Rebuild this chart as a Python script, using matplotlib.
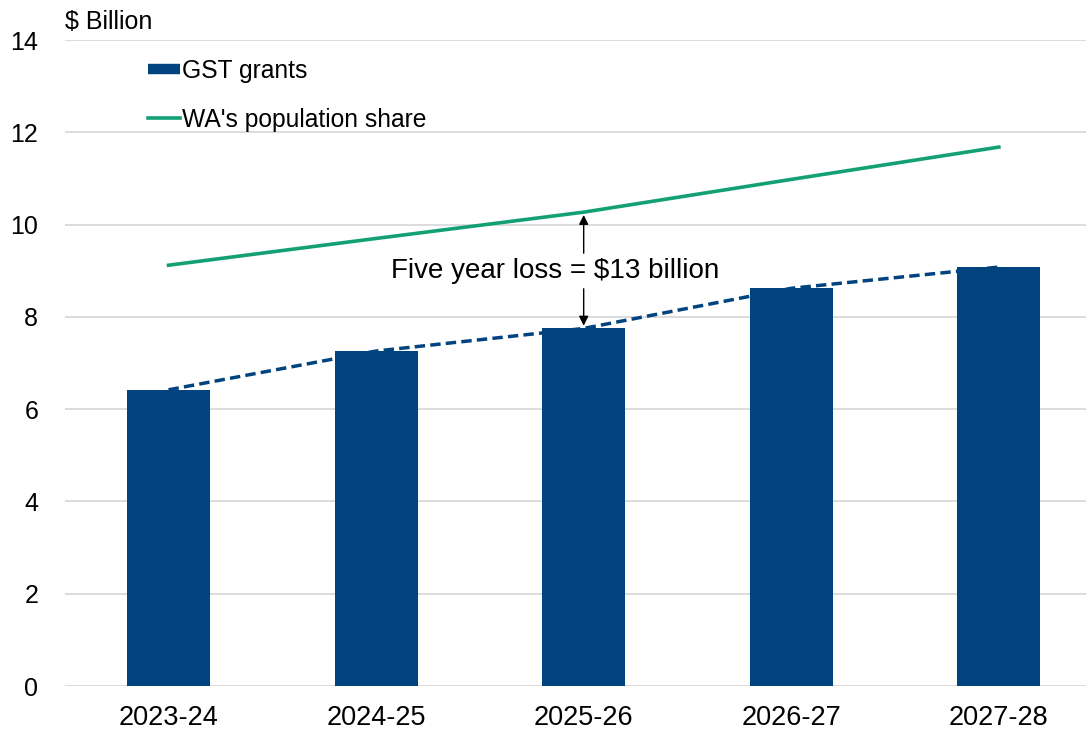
import numpy as np
import matplotlib
matplotlib.use("Agg")
import matplotlib.pyplot as plt
from matplotlib.lines import Line2D

plt.rcParams['font.family'] = ['Liberation Sans', 'DejaVu Sans']

# WA GST grants vs population share, $ billion
years = ['2023-24', '2024-25', '2025-26', '2026-27', '2027-28']
gst_grants = [6.42, 7.26, 7.75, 8.62, 9.08]
pop_share = [9.12, 9.70, 10.27, 10.98, 11.68]
y_ticks = [0, 2, 4, 6, 8, 10, 12, 14]
loss_label = 'Five year loss = $13 billion'

navy = '#00437f'
green = '#14a075'

fig = plt.figure(figsize=(10.88, 7.32), dpi=100)
ax = fig.add_axes([0.0595, 0.0628, 0.9387, 0.8825])

x = np.arange(len(years))
ax.bar(x, gst_grants, width=0.4, color=navy, zorder=2)
ax.plot(x, gst_grants, color=navy, lw=2.5, dashes=(3.0, 1.5), zorder=3)
ax.plot(x, pop_share, color=green, lw=2.6, zorder=3)

ax.set_xlim(-0.5, 4.42)
ax.set_ylim(0, 14)
ax.set_yticks(y_ticks)
ax.set_xticks(x)
ax.set_xticklabels(years)
ax.tick_params(axis='y', length=0, pad=19, labelsize=18)
ax.tick_params(axis='x', length=0, pad=14, labelsize=19.5)
ax.grid(axis='y', color='#d9d9d9', lw=1.3, zorder=0)
ax.set_axisbelow(True)
for s in ax.spines.values():
    s.set_visible(False)

# gap annotation in 2025-26
ax.text(1.86, 9.0, loss_label, ha='center', va='center', fontsize=20)
ax.annotate('', xy=(2, pop_share[2]), xytext=(2, 9.32),
            arrowprops=dict(arrowstyle='-|>', color='black', lw=1, mutation_scale=14))
ax.annotate('', xy=(2, gst_grants[2]), xytext=(2, 8.67),
            arrowprops=dict(arrowstyle='-|>', color='black', lw=1, mutation_scale=14))

fig.text(65 / 1088, 1 - 22 / 732, '$ Billion', fontsize=18, va='center', ha='left')

handles = [Line2D([], [], color=navy, lw=7.5, solid_capstyle='butt'),
           Line2D([], [], color=green, lw=2.6)]
ax.legend(handles, ['GST grants', "WA's population share"], loc='upper left',
          bbox_to_anchor=(148 / 1088, 1 - 59 / 732), bbox_transform=fig.transFigure,
          frameon=False, fontsize=17.7, handlelength=1.3, handletextpad=0.1,
          labelspacing=1.0, borderpad=0, borderaxespad=0)

fig.savefig('out.png', dpi=100)
